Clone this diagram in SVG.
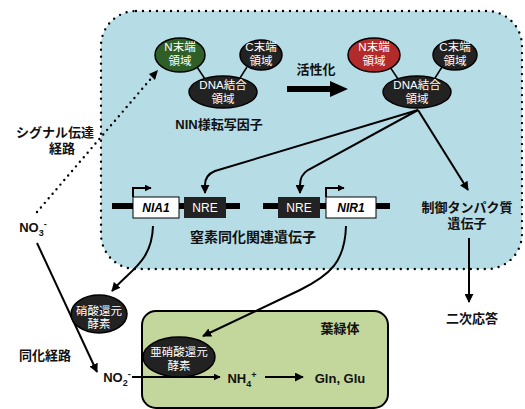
<svg xmlns="http://www.w3.org/2000/svg" width="525" height="409" viewBox="0 0 525 409">
<defs>
<marker id="ah" viewBox="0 0 10 10" refX="9" refY="5" markerWidth="4.5" markerHeight="4.5" orient="auto" markerUnits="strokeWidth"><path d="M0,0 L10,5 L0,10 z" fill="#000"/></marker>
<marker id="ahs" viewBox="0 0 10 10" refX="9" refY="5" markerWidth="3.5" markerHeight="3.5" orient="auto" markerUnits="strokeWidth"><path d="M0,0 L10,5 L0,10 z" fill="#000"/></marker>
</defs>
<style>
text{font-family:"Liberation Sans","Noto Sans CJK JP",sans-serif;}
.lb{font-size:13px;font-weight:bold;fill:#111;text-anchor:middle;}
.big{font-size:14px;}
.el{font-size:11.5px;fill:#fff;text-anchor:middle;}
.dk{fill:#222;stroke:#000;stroke-width:1.5;}
.ln{fill:none;stroke:#000;stroke-width:2;}
</style>
<rect x="101" y="11" width="421" height="258" rx="35" fill="#b6dde6" stroke="#000" stroke-width="2.4" stroke-dasharray="0 7" stroke-linecap="round"/>
<rect id="chloroplast" x="142" y="311" width="246" height="97" rx="14" fill="#c3d69b" stroke="#000" stroke-width="2"/>
<text class="lb" x="340" y="333">葉緑体</text>

<g id="connectors">
<line x1="197" y1="67" x2="205" y2="79" stroke="#000" stroke-width="1.5"/>
<line x1="247" y1="67" x2="240" y2="78" stroke="#000" stroke-width="1.5"/>
<line x1="390" y1="67" x2="398" y2="79" stroke="#000" stroke-width="1.5"/>
<line x1="442" y1="67" x2="435" y2="78" stroke="#000" stroke-width="1.5"/>
<path d="M287,89 H332" stroke="#000" stroke-width="6"/>
<path d="M330,81 L348,89 L330,97 z" fill="#000"/>
<path class="ln" d="M418,110 L215,171 Q205,175 205,185 V193" marker-end="url(#ah)"/>
<path class="ln" d="M418,110 L308,170 Q300,175 300,185 V193" marker-end="url(#ah)"/>
<path class="ln" d="M418,110 L468,190" marker-end="url(#ah)"/>
<path d="M37,212 L154,75" fill="none" stroke="#000" stroke-width="2.4" stroke-dasharray="0 6" stroke-linecap="round"/>
<path d="M149,74 L158,70 L155,80 z" fill="#000"/>
<path class="ln" d="M153,226 C152,262 130,270 112,291" marker-end="url(#ah)"/>
<path class="ln" d="M346,226 C345,262 330,275 300,290 L203,336" marker-end="url(#ah)"/>
<path class="ln" d="M469,238 V302" marker-end="url(#ah)"/>
<path class="ln" d="M37,243 L97,372" marker-end="url(#ah)"/>
<path class="ln" d="M132,377 H220" marker-end="url(#ahs)"/>
<path class="ln" d="M265,377 H303" marker-end="url(#ah)"/>
<path class="ln" d="M133,197 V188 H151" marker-end="url(#ahs)"/>
<path class="ln" d="M326,197 V188 H344" marker-end="url(#ahs)"/>
</g>

<g id="tf-inactive">
<ellipse cx="180" cy="55" rx="25" ry="17" fill="#2f5f27" stroke="#000" stroke-width="1.5"/>
<text class="el" x="180" y="51">N末端</text><text class="el" x="180" y="65">領域</text>
<ellipse class="dk" cx="261" cy="55" rx="21" ry="15"/>
<text class="el" x="261" y="51">C末端</text><text class="el" x="261" y="65">領域</text>
<ellipse class="dk" cx="223" cy="92" rx="34" ry="16"/>
<text class="el" x="223" y="89">DNA結合</text><text class="el" x="223" y="103">領域</text>
<text class="lb" x="219" y="129">NIN様転写因子</text>
</g>
<text class="lb" x="316" y="74">活性化</text>
<g id="tf-active">
<ellipse cx="374" cy="55" rx="26" ry="17" fill="#b22a2a" stroke="#000" stroke-width="1.5"/>
<text class="el" x="374" y="51">N末端</text><text class="el" x="374" y="65">領域</text>
<ellipse class="dk" cx="455" cy="55" rx="22" ry="15"/>
<text class="el" x="455" y="51">C末端</text><text class="el" x="455" y="65">領域</text>
<ellipse class="dk" cx="417" cy="92" rx="34" ry="16"/>
<text class="el" x="417" y="89">DNA結合</text><text class="el" x="417" y="103">領域</text>
</g>

<g id="gene-nia1">
<rect x="112" y="203" width="128" height="6" fill="#000"/>
<rect x="133" y="197" width="46" height="21" fill="#fff" stroke="#000" stroke-width="1"/>
<text x="156" y="212" font-size="12" font-weight="bold" font-style="italic" text-anchor="middle">NIA1</text>
<rect x="184" y="197" width="42" height="21" fill="#222"/>
<text x="205" y="212" font-size="12" fill="#fff" text-anchor="middle">NRE</text>
</g>
<g id="gene-nir1">
<rect x="263" y="203" width="127" height="6" fill="#000"/>
<rect x="278" y="197" width="42" height="21" fill="#222"/>
<text x="299" y="212" font-size="12" fill="#fff" text-anchor="middle">NRE</text>
<rect x="326" y="197" width="50" height="21" fill="#fff" stroke="#000" stroke-width="1"/>
<text x="351" y="212" font-size="12" font-weight="bold" font-style="italic" text-anchor="middle">NIR1</text>
</g>
<text class="lb big" x="253" y="242">窒素同化関連遺伝子</text>
<g id="regulatory">
<text class="lb" x="467" y="212">制御タンパク質</text>
<text class="lb" x="467" y="228">遺伝子</text>
</g>
<text class="lb" x="472" y="323">二次応答</text>
<g id="signal"><text class="lb" x="55" y="137">シグナル伝達</text><text class="lb" x="62" y="153">経路</text></g>
<g id="no3"><text class="lb" x="33" y="232">NO<tspan font-size="9" dy="4">3</tspan><tspan font-size="9" dy="-9">-</tspan></text></g>
<text class="lb" x="45" y="360">同化経路</text>
<g id="nr">
<ellipse class="dk" cx="99" cy="314" rx="28" ry="19"/>
<text class="el" x="99" y="315">硝酸還元</text><text class="el" x="99" y="328">酵素</text>
</g>
<g id="no2"><text class="lb" x="117" y="382">NO<tspan font-size="9" dy="4">2</tspan><tspan font-size="9" dy="-9">-</tspan></text></g>
<g id="nir">
<ellipse class="dk" cx="179" cy="357" rx="36" ry="20"/>
<text class="el" x="179" y="356">亜硝酸還元</text><text class="el" x="179" y="370">酵素</text>
</g>
<g id="nh4"><text class="lb" x="242" y="383">NH<tspan font-size="9" dy="4">4</tspan><tspan font-size="9" dy="-9">+</tspan></text></g>
<g id="gln"><text class="lb" x="340" y="383">Gln, Glu</text></g>
</svg>
